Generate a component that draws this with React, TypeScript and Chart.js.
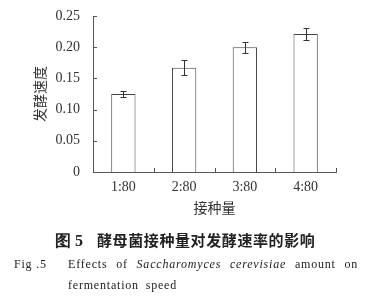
import React, { useEffect, useRef } from "react";
import { Chart, registerables } from "chart.js";

Chart.register(...registerables);

const categories = ["1:80", "2:80", "3:80", "4:80"];
const rates = [0.125, 0.167, 0.2, 0.221];
const errors = [0.005, 0.012, 0.009, 0.01];
const yMin = 0;
const yMax = 0.25;
const yStep = 0.05;
const xTitle = "接种量";
const yTitle = "发酵速度";

const AXIS = "#555";
const TEXT = "#333";

const extrasPlugin = {
  id: "extras",
  afterDatasetsDraw(chart: any) {
    const ctx = chart.ctx;
    const meta = chart.getDatasetMeta(0);
    const ys = chart.scales.y;
    const xs = chart.scales.x;
    ctx.save();
    ctx.strokeStyle = "#333";
    ctx.lineWidth = 1;
    meta.data.forEach((bar: any, i: number) => {
      const x = Math.round(bar.x) + 0.5;
      const top = Math.round(ys.getPixelForValue(rates[i] + errors[i])) + 0.5;
      const bot = Math.round(ys.getPixelForValue(rates[i] - errors[i])) + 0.5;
      ctx.beginPath();
      ctx.moveTo(x, top);
      ctx.lineTo(x, bot);
      ctx.moveTo(x - 3, top);
      ctx.lineTo(x + 3, top);
      ctx.moveTo(x - 3, bot);
      ctx.lineTo(x + 3, bot);
      ctx.stroke();
    });
    // inside tick marks
    ctx.strokeStyle = AXIS;
    const left = chart.chartArea.left;
    ys.ticks.forEach((t: any) => {
      const y = Math.round(ys.getPixelForValue(t.value)) + 0.5;
      ctx.beginPath();
      ctx.moveTo(left, y);
      ctx.lineTo(left + 4, y);
      ctx.stroke();
    });
    const bottom = chart.chartArea.bottom;
    const n = categories.length;
    for (let i = 1; i <= n; i++) {
      const x = Math.round(xs.left + (i * (xs.right - xs.left)) / n) + 0.5;
      ctx.beginPath();
      ctx.moveTo(x, bottom);
      ctx.lineTo(x, bottom - 4);
      ctx.stroke();
    }
    ctx.restore();
  },
};

export default function App() {
  const ref = useRef<HTMLCanvasElement>(null);
  useEffect(() => {
    document.body.style.margin = "0";
    const chart = new Chart(ref.current!, {
      type: "bar",
      data: {
        labels: categories,
        datasets: [
          {
            data: rates,
            backgroundColor: "#ffffff",
            borderColor: "#444",
            borderWidth: 1,
            categoryPercentage: 0.8,
            barPercentage: 0.5,
          },
        ],
      },
      options: {
        responsive: false,
        animation: false,
        events: [],
        layout: { padding: { left: 28, right: 35, top: 16, bottom: 79 } },
        plugins: { legend: { display: false }, tooltip: { enabled: false } },
        scales: {
          x: {
            grid: { display: false, drawTicks: false },
            border: { color: AXIS, width: 1 },
            ticks: {
              color: TEXT,
              padding: 7,
              font: { family: "Liberation Serif", size: 14 },
            },
            title: {
              display: true,
              text: xTitle,
              color: TEXT,
              font: { family: "Noto Sans CJK SC", size: 14 },
              padding: { top: 0, bottom: 6 },
            },
            afterFit: (s: any) => {
              s.height = 50;
              s.paddingLeft = 0;
              s.paddingRight = 0;
            },
          },
          y: {
            min: yMin,
            max: yMax,
            grid: { display: false, drawTicks: false },
            border: { color: AXIS, width: 1 },
            ticks: {
              stepSize: yStep,
              color: TEXT,
              padding: 13,
              font: { family: "Liberation Serif", size: 14 },
              callback: (v: any) => (Number(v) === 0 ? "0" : Number(v).toFixed(2)),
            },
            title: {
              display: true,
              text: yTitle,
              color: TEXT,
              font: { family: "Noto Sans CJK SC", size: 14 },
              padding: { top: 3, bottom: 2 },
            },
            afterFit: (s: any) => {
              s.width = 65;
              s.paddingTop = 0;
              s.paddingBottom = 0;
            },
          },
        },
      },
      plugins: [extrasPlugin],
    });
    return () => chart.destroy();
  }, []);

  const serif = "'Liberation Serif', 'DejaVu Serif', serif";
  return (
    <div style={{ position: "relative", width: 371, height: 301, background: "#fff", overflow: "hidden" }}>
      <canvas ref={ref} width={371} height={301} style={{ position: "absolute", left: 0, top: 0 }} />
      <div
        style={{
          position: "absolute",
          left: 55,
          top: 230,
          fontFamily: "'Noto Sans CJK SC', sans-serif",
          fontWeight: "bold",
          fontSize: 15,
          color: "#222",
          whiteSpace: "nowrap",
          lineHeight: "20px",
        }}
      >
        <span style={{ fontFamily: serif, fontSize: 16 }}>图 5</span>
        <span style={{ position: "absolute", left: 42, top: 0, letterSpacing: 0.6 }}>酵母菌接种量对发酵速率的影响</span>
      </div>
      <div
        style={{
          position: "absolute",
          left: 14,
          top: 256,
          fontFamily: serif,
          fontSize: 12,
          color: "#222",
          whiteSpace: "nowrap",
          lineHeight: "16px",
          letterSpacing: 0.8,
        }}
      >
        Fig .5
      </div>
      <div
        style={{
          position: "absolute",
          left: 68,
          top: 256,
          fontFamily: serif,
          fontSize: 12,
          color: "#222",
          whiteSpace: "nowrap",
          lineHeight: "16px",
          letterSpacing: 0.8,
          wordSpacing: 5,
        }}
      >
        Effects of <i>Saccharomyces cerevisiae</i> amount on
      </div>
      <div
        style={{
          position: "absolute",
          left: 68,
          top: 277,
          fontFamily: serif,
          fontSize: 12,
          color: "#222",
          whiteSpace: "nowrap",
          lineHeight: "16px",
          letterSpacing: 0.8,
          wordSpacing: 3,
        }}
      >
        fermentation speed
      </div>
    </div>
  );
}
